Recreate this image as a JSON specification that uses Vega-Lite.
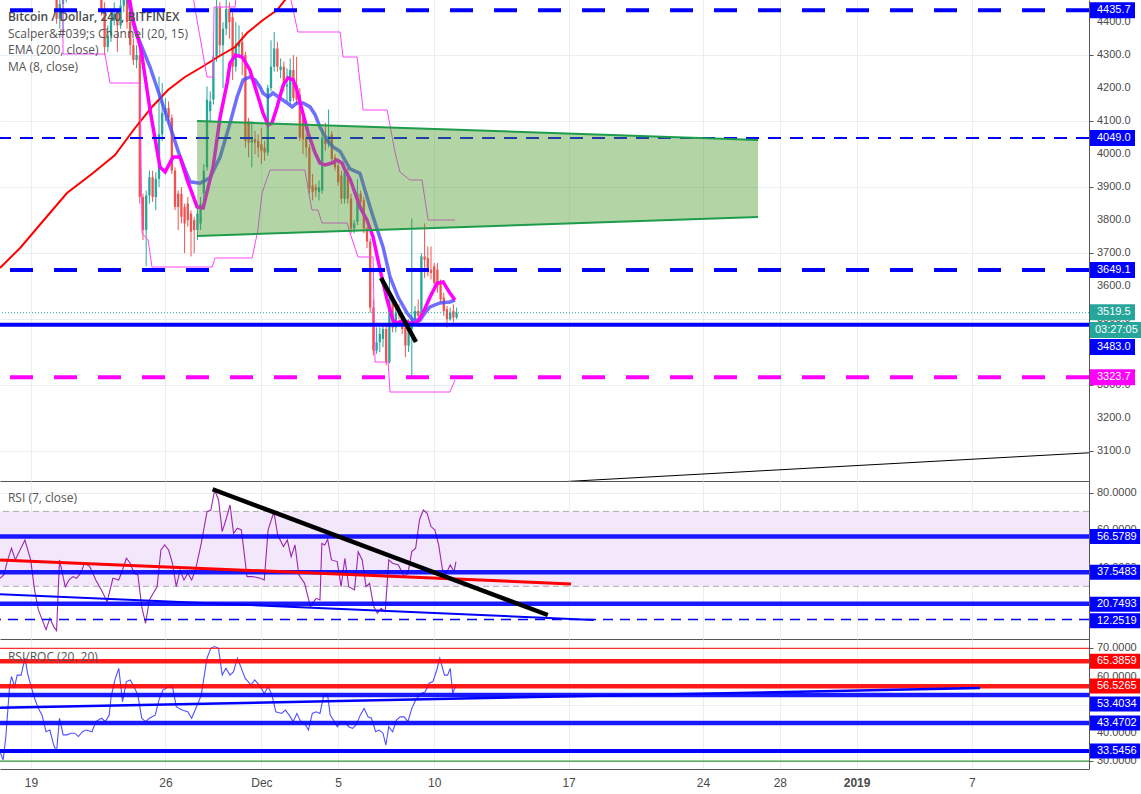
{
  "$schema": "https://vega.github.io/schema/vega-lite/v6.json",
  "padding": 0,
  "autosize": {"type": "pad"},
  "background": "white",
  "spacing": 0,
  "config": {
    "view": {"stroke": null},
    "axis": {"gridColor": "#e7eef4", "domainColor": "#555555", "tickColor": "#555555", "labelColor": "#4a4a4a", "labelFont": "Liberation Sans", "title": null, "zindex": 0}
  },
  "resolve": {"scale": {"x": "independent", "y": "independent", "color": "independent"}},
  "datasets": {
    "candles": [
      {"b":8,"o":4530,"h":4545,"l":4395,"c":4410},{"b":9,"o":4410,"h":4480,"l":4380,"c":4455},{"b":10,"o":4455,"h":4520,"l":4370,"c":4490},{"b":11,"o":4490,"h":4560,"l":4460,"c":4540},{"b":12,"o":4540,"h":4600,"l":4520,"c":4580},{"b":13,"o":4580,"h":4640,"l":4560,"c":4620},{"b":14,"o":4620,"h":4680,"l":4600,"c":4650},{"b":15,"o":4650,"h":4690,"l":4610,"c":4630},{"b":16,"o":4630,"h":4670,"l":4590,"c":4610},{"b":17,"o":4610,"h":4650,"l":4570,"c":4590},{"b":18,"o":4590,"h":4640,"l":4560,"c":4620},{"b":19,"o":4620,"h":4650,"l":4570,"c":4580},{"b":20,"o":4580,"h":4600,"l":4520,"c":4540},{"b":21,"o":4540,"h":4560,"l":4480,"c":4500},{"b":22,"o":4500,"h":4520,"l":4420,"c":4440},{"b":23,"o":4440,"h":4460,"l":4300,"c":4325},{"b":24,"o":4325,"h":4390,"l":4310,"c":4360},{"b":25,"o":4360,"h":4430,"l":4340,"c":4405},{"b":26,"o":4405,"h":4460,"l":4390,"c":4425},{"b":27,"o":4425,"h":4440,"l":4310,"c":4390},{"b":28,"o":4390,"h":4470,"l":4380,"c":4450},{"b":29,"o":4450,"h":4500,"l":4430,"c":4470},{"b":30,"o":4470,"h":4500,"l":4380,"c":4400},{"b":31,"o":4400,"h":4420,"l":4300,"c":4330},{"b":32,"o":4330,"h":4350,"l":4270,"c":4285},{"b":33,"o":4285,"h":4330,"l":4260,"c":4300},{"b":34,"o":4300,"h":4320,"l":3850,"c":3870},{"b":35,"o":3870,"h":3880,"l":3740,"c":3770},{"b":36,"o":3770,"h":3890,"l":3660,"c":3875},{"b":37,"o":3875,"h":3950,"l":3850,"c":3930},{"b":38,"o":3930,"h":3950,"l":3855,"c":3870},{"b":39,"o":3870,"h":3945,"l":3830,"c":3925},{"b":40,"o":3925,"h":4235,"l":3900,"c":4060},{"b":41,"o":4060,"h":4215,"l":4040,"c":4125},{"b":42,"o":4125,"h":4170,"l":4100,"c":4140},{"b":43,"o":4140,"h":4160,"l":4090,"c":4110},{"b":44,"o":4110,"h":4120,"l":3940,"c":3950},{"b":45,"o":3950,"h":3960,"l":3830,"c":3840},{"b":46,"o":3880,"h":3890,"l":3770,"c":3840},{"b":47,"o":3880,"h":3900,"l":3790,"c":3810},{"b":48,"o":3840,"h":3850,"l":3700,"c":3790},{"b":49,"o":3850,"h":3870,"l":3780,"c":3800},{"b":50,"o":3820,"h":3830,"l":3690,"c":3765},{"b":51,"o":3800,"h":3810,"l":3700,"c":3770},{"b":52,"o":3770,"h":3840,"l":3740,"c":3820},{"b":53,"o":3790,"h":3870,"l":3770,"c":3850},{"b":54,"o":3880,"h":3970,"l":3860,"c":3950},{"b":55,"o":3960,"h":4205,"l":3950,"c":4165},{"b":56,"o":4130,"h":4190,"l":4100,"c":4160},{"b":57,"o":4165,"h":4310,"l":4150,"c":4295},{"b":58,"o":4295,"h":4470,"l":4280,"c":4445},{"b":59,"o":4445,"h":4460,"l":4300,"c":4330},{"b":60,"o":4330,"h":4400,"l":4200,"c":4380},{"b":61,"o":4380,"h":4470,"l":4360,"c":4440},{"b":62,"o":4440,"h":4460,"l":4350,"c":4400},{"b":63,"o":4415,"h":4430,"l":4225,"c":4265},{"b":64,"o":4265,"h":4400,"l":4250,"c":4325},{"b":65,"o":4325,"h":4390,"l":4300,"c":4340},{"b":66,"o":4340,"h":4370,"l":4240,"c":4300},{"b":67,"o":4300,"h":4310,"l":4020,"c":4040},{"b":68,"o":4100,"h":4110,"l":3990,"c":4035},{"b":69,"o":4035,"h":4100,"l":3960,"c":4045},{"b":70,"o":4045,"h":4070,"l":4000,"c":4035},{"b":71,"o":4040,"h":4060,"l":3990,"c":4020},{"b":72,"o":4030,"h":4080,"l":3970,"c":4010},{"b":73,"o":4020,"h":4040,"l":3980,"c":4005},{"b":74,"o":4005,"h":4210,"l":3995,"c":4200},{"b":75,"o":4200,"h":4345,"l":4190,"c":4265},{"b":76,"o":4265,"h":4370,"l":4250,"c":4320},{"b":77,"o":4320,"h":4340,"l":4250,"c":4265},{"b":78,"o":4255,"h":4290,"l":4230,"c":4265},{"b":79,"o":4265,"h":4280,"l":4190,"c":4205},{"b":80,"o":4205,"h":4260,"l":4160,"c":4210},{"b":81,"o":4160,"h":4290,"l":4150,"c":4255},{"b":82,"o":4255,"h":4300,"l":4160,"c":4170},{"b":83,"o":4210,"h":4295,"l":4150,"c":4165},{"b":84,"o":4180,"h":4200,"l":4040,"c":4050},{"b":85,"o":4110,"h":4125,"l":4000,"c":4045},{"b":86,"o":4050,"h":4060,"l":3990,"c":4020},{"b":87,"o":4020,"h":4030,"l":3880,"c":3895},{"b":88,"o":3905,"h":3940,"l":3860,"c":3885},{"b":89,"o":3900,"h":3910,"l":3870,"c":3890},{"b":90,"o":3885,"h":3920,"l":3860,"c":3900},{"b":91,"o":3890,"h":4080,"l":3880,"c":4050},{"b":92,"o":4050,"h":4095,"l":4010,"c":4030},{"b":93,"o":4030,"h":4135,"l":4020,"c":4055},{"b":94,"o":4060,"h":4070,"l":3975,"c":3985},{"b":95,"o":3990,"h":4000,"l":3950,"c":3960},{"b":96,"o":3965,"h":3980,"l":3905,"c":3915},{"b":97,"o":3935,"h":3950,"l":3850,"c":3865},{"b":98,"o":3865,"h":3960,"l":3850,"c":3945},{"b":99,"o":3945,"h":3960,"l":3850,"c":3865},{"b":100,"o":3865,"h":3880,"l":3760,"c":3775},{"b":101,"o":3775,"h":3800,"l":3760,"c":3790},{"b":102,"o":3795,"h":3925,"l":3785,"c":3880},{"b":103,"o":3880,"h":3890,"l":3840,"c":3855},{"b":104,"o":3860,"h":3870,"l":3760,"c":3775},{"b":105,"o":3775,"h":3780,"l":3715,"c":3735},{"b":106,"o":3735,"h":3745,"l":3520,"c":3535},{"b":107,"o":3535,"h":3560,"l":3390,"c":3405},{"b":108,"o":3405,"h":3475,"l":3395,"c":3430},{"b":109,"o":3430,"h":3475,"l":3400,"c":3455},{"b":110,"o":3440,"h":3480,"l":3415,"c":3470},{"b":111,"o":3470,"h":3480,"l":3360,"c":3370},{"b":112,"o":3370,"h":3630,"l":3365,"c":3560},{"b":113,"o":3555,"h":3570,"l":3460,"c":3475},{"b":114,"o":3475,"h":3550,"l":3460,"c":3520},{"b":115,"o":3530,"h":3545,"l":3500,"c":3510},{"b":116,"o":3510,"h":3520,"l":3455,"c":3470},{"b":117,"o":3475,"h":3485,"l":3385,"c":3420},{"b":118,"o":3420,"h":3500,"l":3400,"c":3480},{"b":119,"o":3470,"h":3805,"l":3322,"c":3500},{"b":120,"o":3500,"h":3540,"l":3490,"c":3525},{"b":121,"o":3525,"h":3560,"l":3500,"c":3510},{"b":122,"o":3510,"h":3700,"l":3505,"c":3690},{"b":123,"o":3690,"h":3790,"l":3625,"c":3680},{"b":124,"o":3685,"h":3720,"l":3630,"c":3645},{"b":125,"o":3650,"h":3720,"l":3620,"c":3640},{"b":126,"o":3660,"h":3670,"l":3600,"c":3610},{"b":127,"o":3650,"h":3670,"l":3580,"c":3600},{"b":128,"o":3610,"h":3620,"l":3550,"c":3560},{"b":129,"o":3565,"h":3580,"l":3510,"c":3525},{"b":130,"o":3530,"h":3540,"l":3475,"c":3500},{"b":131,"o":3500,"h":3535,"l":3495,"c":3520},{"b":132,"o":3525,"h":3545,"l":3490,"c":3505},{"b":133,"o":3505,"h":3535,"l":3500,"c":3519.5}
    ],
    "ema": [{"b":-9.7,"p":3655},{"b":-3.4,"p":3715.6},{"b":5.9,"p":3821.6},{"b":11.25,"p":3882.2},{"b":19.4,"p":3942.8},{"b":26.25,"p":3997.4},{"b":32.5,"p":4079.2},{"b":37.8,"p":4142.8},{"b":42.8,"p":4194.3},{"b":48.1,"p":4233.7},{"b":53.4,"p":4264},{"b":58.4,"p":4294.3},{"b":63.75,"p":4324.6},{"b":67.5,"p":4367},{"b":72.5,"p":4406.4},{"b":76.9,"p":4436.7},{"b":79.4,"p":4467},{"b":84.1,"p":4521.5}],
    "ma8": [{"b":30.3,"p":4497},{"b":31.9,"p":4406},{"b":34.4,"p":4316},{"b":37.2,"p":4134},{"b":40.3,"p":3961},{"b":41.9,"p":3946},{"b":44.4,"p":3991},{"b":46.6,"p":3991},{"b":48.8,"p":3922},{"b":51.9,"p":3840},{"b":53.8,"p":3837},{"b":56.9,"p":3961},{"b":59.1,"p":4112},{"b":61.3,"p":4216},{"b":62.2,"p":4276},{"b":63.9,"p":4300},{"b":66,"p":4294},{"b":68.4,"p":4255},{"b":70.6,"p":4185},{"b":72.5,"p":4125},{"b":74.1,"p":4088},{"b":75.3,"p":4094},{"b":76.9,"p":4143},{"b":78.8,"p":4209},{"b":80.3,"p":4231},{"b":81.9,"p":4225},{"b":83.1,"p":4194},{"b":84.7,"p":4134},{"b":86.6,"p":4064},{"b":88.8,"p":4003},{"b":90.3,"p":3973},{"b":91.9,"p":3967},{"b":94.1,"p":3973},{"b":95.6,"p":3982},{"b":97.2,"p":3973},{"b":98.1,"p":3952},{"b":99.7,"p":3925},{"b":102.8,"p":3840},{"b":105,"p":3800},{"b":106.9,"p":3749},{"b":109.1,"p":3649},{"b":111.3,"p":3558},{"b":113.1,"p":3497},{"b":114.4,"p":3488},{"b":116.3,"p":3497},{"b":118.4,"p":3488},{"b":120.6,"p":3488},{"b":122.5,"p":3519},{"b":124.7,"p":3567},{"b":126.9,"p":3609},{"b":128.8,"p":3613},{"b":130.9,"p":3579},{"b":132.5,"p":3558}],
    "scal": [{"b":29.7,"p":4497},{"b":32.5,"p":4376},{"b":37.2,"p":4264},{"b":42.5,"p":4112},{"b":46.6,"p":3991},{"b":49.7,"p":3916},{"b":52.8,"p":3912},{"b":55.9,"p":3928},{"b":59.1,"p":3991},{"b":62.2,"p":4094},{"b":64.4,"p":4173},{"b":66.3,"p":4225},{"b":68.4,"p":4234},{"b":70,"p":4225},{"b":71.6,"p":4203},{"b":72.5,"p":4185},{"b":74.1,"p":4173},{"b":75.6,"p":4185},{"b":77.8,"p":4170},{"b":80,"p":4155},{"b":81.6,"p":4143},{"b":83.1,"p":4155},{"b":85,"p":4155},{"b":87.2,"p":4143},{"b":88.8,"p":4119},{"b":90.3,"p":4082},{"b":92.5,"p":4043},{"b":94.4,"p":4022},{"b":96.6,"p":4008},{"b":98.1,"p":3982},{"b":99.7,"p":3955},{"b":102.8,"p":3942},{"b":105,"p":3870},{"b":106.9,"p":3810},{"b":110,"p":3719},{"b":112.2,"p":3628},{"b":114.7,"p":3567},{"b":117.5,"p":3519},{"b":119.4,"p":3497},{"b":121.6,"p":3497},{"b":123.1,"p":3519},{"b":124.7,"p":3537},{"b":127.8,"p":3549},{"b":130.9,"p":3552},{"b":132.5,"p":3558}],
    "lower": [{"b":9.98,"p":4482},{"b":10,"p":4303.4},{"b":23.1,"p":4303.4},{"b":24.7,"p":4215.5},{"b":34.1,"p":4215.5},{"b":34.7,"p":3761},{"b":36.6,"p":3739.8},{"b":37.8,"p":3658},{"b":56.6,"p":3658},{"b":57.5,"p":3685.3},{"b":69.1,"p":3685.3},{"b":70.9,"p":3770},{"b":72.2,"p":3882.2},{"b":74.7,"p":3951.9},{"b":85.6,"p":3951.9},{"b":87.2,"p":3861},{"b":87.8,"p":3830.7},{"b":89.7,"p":3830.7},{"b":90.9,"p":3791.3},{"b":98.8,"p":3791.3},{"b":99.7,"p":3761},{"b":102.2,"p":3688.3},{"b":106.9,"p":3688.3},{"b":107.5,"p":3370.1},{"b":111.6,"p":3370.1},{"b":112.2,"p":3279.2},{"b":130.9,"p":3279.2},{"b":132.5,"p":3315.6}],
    "upper": [{"b":50.6,"p":4482},{"b":51.6,"p":4421.6},{"b":53.8,"p":4300.4},{"b":55,"p":4233.7},{"b":56.9,"p":4233.7},{"b":57.2,"p":4445.8},{"b":63.8,"p":4445.8},{"b":64.1,"p":4482},{"b":80.9,"p":4482},{"b":83.4,"p":4370},{"b":96.6,"p":4370},{"b":97.5,"p":4294.3},{"b":101.9,"p":4294.3},{"b":103.8,"p":4133.7},{"b":111.3,"p":4133.7},{"b":113.8,"p":4003.4},{"b":115.3,"p":3945.8},{"b":118.4,"p":3921.6},{"b":122.2,"p":3921.6},{"b":124.1,"p":3800.4},{"b":132.5,"p":3800.4}],
    "rsi": [{"b":-9.69,"v":34.3},{"b":-8.5,"v":36.1},{"b":-7.28,"v":44.1},{"b":-6.09,"v":50.3},{"b":-4.9,"v":44.1},{"b":-3.69,"v":48.5},{"b":-1.9,"v":54.7},{"b":-0.1,"v":44.1},{"b":1.1,"v":28.1},{"b":2.3,"v":17.4},{"b":4.7,"v":6.9},{"b":5.9,"v":13},{"b":7.1,"v":8.5},{"b":8,"v":6.4},{"b":8.9,"v":44.1},{"b":10.7,"v":29.8},{"b":11.9,"v":33.4},{"b":13.1,"v":35.2},{"b":14.25,"v":34.3},{"b":15.5,"v":37},{"b":16.7,"v":42.3},{"b":18.4,"v":40.5},{"b":20.25,"v":33.4},{"b":22,"v":28.1},{"b":23.8,"v":21.8},{"b":25.6,"v":34.3},{"b":27.4,"v":33.4},{"b":28.6,"v":38.7},{"b":29.8,"v":45},{"b":31,"v":42.3},{"b":32.2,"v":37},{"b":33.4,"v":36.1},{"b":34.6,"v":19.2},{"b":35.8,"v":10.3},{"b":37,"v":22.7},{"b":38.2,"v":26.3},{"b":39.4,"v":29.8},{"b":40.6,"v":49.4},{"b":41.8,"v":52.1},{"b":43,"v":49.4},{"b":44.2,"v":42.3},{"b":45.4,"v":29.8},{"b":46.6,"v":38.7},{"b":47.8,"v":33.4},{"b":49,"v":37},{"b":50.2,"v":33.4},{"b":51.4,"v":38.7},{"b":53.2,"v":52.9},{"b":55,"v":69.8},{"b":56.2,"v":70.7},{"b":57.4,"v":81.4},{"b":58.6,"v":76.1},{"b":59.75,"v":59.2},{"b":60.9,"v":65.4},{"b":62.2,"v":73.4},{"b":63.3,"v":58.3},{"b":64.5,"v":61},{"b":65.75,"v":60.1},{"b":67.5,"v":35.2},{"b":69.3,"v":35.2},{"b":71.7,"v":34.3},{"b":72.9,"v":33.4},{"b":74.1,"v":60.1},{"b":75.9,"v":69.8},{"b":77.1,"v":57.4},{"b":78.9,"v":51.2},{"b":80.1,"v":54.7},{"b":81.3,"v":45.8},{"b":82.5,"v":52.1},{"b":83.7,"v":36.1},{"b":85.5,"v":31.6},{"b":87.3,"v":19.2},{"b":89.1,"v":23.6},{"b":90.3,"v":22.7},{"b":90.9,"v":52.9},{"b":91.8,"v":52.1},{"b":92.7,"v":55.1},{"b":93.9,"v":44.1},{"b":95.7,"v":43.2},{"b":96.9,"v":29.8},{"b":98.1,"v":45},{"b":99.3,"v":29.8},{"b":101.1,"v":28.1},{"b":102.25,"v":48.5},{"b":103.5,"v":44.1},{"b":104.7,"v":29.8},{"b":105.8,"v":31.6},{"b":107.1,"v":19.2},{"b":108.25,"v":15.7},{"b":109.4,"v":18.3},{"b":110.7,"v":16.5},{"b":111.8,"v":44.1},{"b":113,"v":42.3},{"b":114.8,"v":41.4},{"b":116.6,"v":35.2},{"b":117.8,"v":37},{"b":119,"v":48.5},{"b":120.2,"v":50.3},{"b":121.4,"v":65.4},{"b":122.6,"v":70.7},{"b":123.8,"v":68.9},{"b":125,"v":61.9},{"b":126.2,"v":60.1},{"b":127.4,"v":52.1},{"b":128.6,"v":38.7},{"b":129.8,"v":37},{"b":131,"v":41.4},{"b":132.2,"v":37.8},{"b":132.8,"v":43.2}],
    "roc": [{"b":-9.69,"v":33.3},{"b":-8.72,"v":30.4},{"b":-7.9,"v":38.1},{"b":-6.69,"v":56.4},{"b":-6.09,"v":60},{"b":-5.13,"v":56.4},{"b":-4.31,"v":60.5},{"b":-3.09,"v":60.5},{"b":-1.9,"v":66.5},{"b":-1.06,"v":61.1},{"b":-0.1,"v":57},{"b":1.1,"v":52.3},{"b":2.3,"v":48.7},{"b":3.47,"v":46.3},{"b":4.7,"v":40.4},{"b":5.9,"v":41},{"b":7.1,"v":35.7},{"b":8,"v":33.3},{"b":8.9,"v":45.2},{"b":10.06,"v":39.3},{"b":11.25,"v":39.3},{"b":12.47,"v":39.9},{"b":13.66,"v":39.9},{"b":14.84,"v":38.7},{"b":16.06,"v":40.4},{"b":17.25,"v":41},{"b":19.06,"v":40.4},{"b":20.25,"v":44},{"b":22.03,"v":45.2},{"b":23.25,"v":44},{"b":24.44,"v":46.3},{"b":25.03,"v":52.8},{"b":26.22,"v":58.8},{"b":27.44,"v":62.9},{"b":28.6,"v":51.1},{"b":29.8,"v":58.2},{"b":31,"v":58.8},{"b":32.2,"v":56.4},{"b":33.4,"v":53.4},{"b":34.6,"v":45.2},{"b":35.8,"v":44},{"b":37,"v":45.2},{"b":38.8,"v":46.3},{"b":40,"v":51.7},{"b":41.2,"v":55.2},{"b":43,"v":56.4},{"b":44.2,"v":56.4},{"b":45.4,"v":49.3},{"b":47.2,"v":48.1},{"b":49,"v":47.5},{"b":50.2,"v":45.2},{"b":52,"v":50},{"b":53.2,"v":53.4},{"b":55,"v":66.5},{"b":56.2,"v":70},{"b":57.4,"v":70.6},{"b":58.6,"v":70},{"b":59.75,"v":60.5},{"b":60.9,"v":62.9},{"b":62.2,"v":60.5},{"b":63.3,"v":61.7},{"b":64.5,"v":66.5},{"b":65.75,"v":62.9},{"b":66.9,"v":59.4},{"b":68.75,"v":57},{"b":69.9,"v":58.8},{"b":71.7,"v":56.4},{"b":72.9,"v":54},{"b":74.1,"v":56.4},{"b":75.3,"v":53.4},{"b":76.5,"v":47.5},{"b":78.3,"v":46.9},{"b":79.5,"v":48.1},{"b":80.7,"v":46.3},{"b":81.9,"v":44},{"b":83.1,"v":46.9},{"b":84.3,"v":44},{"b":85.5,"v":43.4},{"b":86.7,"v":41},{"b":87.9,"v":46.9},{"b":89.1,"v":47.5},{"b":90.3,"v":46.9},{"b":91.5,"v":53.4},{"b":92.7,"v":53.4},{"b":93.5,"v":46.3},{"b":94.5,"v":44.6},{"b":95.7,"v":42.2},{"b":96.9,"v":44},{"b":98.1,"v":44},{"b":99.3,"v":42.2},{"b":100.5,"v":41.6},{"b":101.6,"v":42.8},{"b":102.9,"v":46.3},{"b":104.1,"v":48.7},{"b":105.3,"v":45.7},{"b":106.4,"v":45.2},{"b":107.7,"v":40.4},{"b":108.8,"v":41},{"b":110,"v":39.9},{"b":110.9,"v":35.7},{"b":111.8,"v":42.2},{"b":113,"v":40.4},{"b":114.25,"v":44.6},{"b":115.4,"v":45.7},{"b":116.6,"v":45.7},{"b":117.8,"v":44},{"b":119,"v":48.7},{"b":120.2,"v":51.7},{"b":122,"v":54},{"b":123.2,"v":54.6},{"b":124.4,"v":57.6},{"b":125.6,"v":58.2},{"b":126.8,"v":62.3},{"b":127.75,"v":66.5},{"b":129.2,"v":60.5},{"b":130.2,"v":60.5},{"b":131,"v":62.9},{"b":131.8,"v":54},{"b":132.8,"v":57}],
    "ticks1": [{"v":3100},{"v":3200},{"v":3300},{"v":3400},{"v":3500},{"v":3600},{"v":3700},{"v":3800},{"v":3900},{"v":4000},{"v":4100},{"v":4200},{"v":4300},{"v":4400}],
    "ticks2": [{"v":20},{"v":40},{"v":60},{"v":80}],
    "ticks3": [{"v":30},{"v":40},{"v":50},{"v":60},{"v":70}],
    "tags1": [{"lab":"4435.7","at":4435.7,"k":"level"},{"lab":"4049.0","at":4049,"k":"level"},{"lab":"3649.1","at":3649.1,"k":"level"},{"lab":"3519.5","at":3521,"k":"last"},{"lab":"3483.0","at":3415.6,"k":"level"},{"lab":"3323.7","at":3323.7,"k":"low"}],
    "tags2": [{"lab":"56.5789","at":56.5789},{"lab":"37.5483","at":37.5483},{"lab":"20.7493","at":20.5},{"lab":"12.2519","at":11.6}],
    "tags3": [{"lab":"65.3859","at":65.3859,"k":"high"},{"lab":"56.5265","at":56.6,"k":"high"},{"lab":"53.4034","at":50.25,"k":"low"},{"lab":"43.4702","at":43.4702,"k":"low"},{"lab":"33.5456","at":33.5456,"k":"low"}]
  },
  "vconcat": [
    {
      "width": 1089,
      "height": 481,
      "layer": [
        {
          "data": {"name": "candles"},
          "mark": {"type": "rule", "strokeWidth": 1, "clip": true},
          "encoding": {
            "x": {"field": "b", "type": "quantitative", "scale": {"domain": [-9.6875, 330.625], "nice": false, "zero": false, "padding": 0},
                  "axis": {"orient": "bottom", "values": [0,42,72,96,126,168,210,234,258,294], "labels": false, "ticks": false, "grid": true, "domain": true, "zindex": 0}},
            "y": {"field": "l", "type": "quantitative", "scale": {"domain": [3009.6, 4467], "nice": false, "zero": false, "padding": 0},
                  "axis": {"orient": "right", "values": [3100,3200,3300,3400,3500,3600,3700,3800,3900,4000,4100,4200,4300,4400], "labels": false, "grid": true, "ticks": true, "tickSize": 4, "domain": true, "zindex": 0}},
            "y2": {"field": "h"},
            "color": {"condition": {"test": "datum.c >= datum.o", "value": "#26a69a"}, "value": "#ef5350"}
          }
        },
        {
          "data": {"name": "candles"},
          "mark": {"type": "bar", "size": 2.3, "clip": true},
          "encoding": {
            "x": {"field": "b", "type": "quantitative"},
            "y": {"field": "o", "type": "quantitative"},
            "y2": {"field": "c"},
            "color": {"condition": {"test": "datum.c >= datum.o", "value": "#26a69a"}, "value": "#ef5350"}
          }
        },
        {
          "data": {"name": "ema"},
          "mark": {"type": "line", "color": "#ff0000", "strokeWidth": 2, "clip": true},
          "encoding": {"x": {"field": "b", "type": "quantitative"}, "y": {"field": "p", "type": "quantitative"}}
        },
        {
          "data": {"name": "lower"},
          "mark": {"type": "line", "color": "#ff44ff", "strokeWidth": 1, "clip": true},
          "encoding": {"x": {"field": "b", "type": "quantitative"}, "y": {"field": "p", "type": "quantitative"}}
        },
        {
          "data": {"name": "upper"},
          "mark": {"type": "line", "color": "#ff44ff", "strokeWidth": 1, "clip": true},
          "encoding": {"x": {"field": "b", "type": "quantitative"}, "y": {"field": "p", "type": "quantitative"}}
        },
        {
          "data": {"name": "scal"},
          "mark": {"type": "line", "color": "#4b4bff", "opacity": 0.8, "strokeWidth": 3.5, "clip": true},
          "encoding": {"x": {"field": "b", "type": "quantitative"}, "y": {"field": "p", "type": "quantitative"}}
        },
        {
          "data": {"name": "ma8"},
          "mark": {"type": "line", "color": "#ff00ff", "strokeWidth": 3.5, "clip": true},
          "encoding": {"x": {"field": "b", "type": "quantitative"}, "y": {"field": "p", "type": "quantitative"}}
        },
        {
          "data": {"values": [{"t": "Bitcoin / Dollar, 240, BITFINEX"}]},
          "mark": {"type": "text", "align": "left", "baseline": "middle", "font": "Open Sans", "fontSize": 12, "fontWeight": 600, "color": "#4a4a4a"},
          "encoding": {"x": {"datum": -7.2}, "y": {"datum": 4415.5}, "text": {"field": "t"}}
        },
        {
          "data": {"values": [{"t": "Scalper&#039;s Channel (20, 15)"}]},
          "mark": {"type": "text", "align": "left", "baseline": "middle", "font": "Open Sans", "fontSize": 12, "color": "#555555"},
          "encoding": {"x": {"datum": -7.2}, "y": {"datum": 4364}, "text": {"field": "t"}}
        },
        {
          "data": {"values": [{"t": "EMA (200, close)"}]},
          "mark": {"type": "text", "align": "left", "baseline": "middle", "font": "Open Sans", "fontSize": 12, "color": "#555555"},
          "encoding": {"x": {"datum": -7.2}, "y": {"datum": 4314}, "text": {"field": "t"}}
        },
        {
          "data": {"values": [{"t": "MA (8, close)"}]},
          "mark": {"type": "text", "align": "left", "baseline": "middle", "font": "Open Sans", "fontSize": 12, "color": "#555555"},
          "encoding": {"x": {"datum": -7.2}, "y": {"datum": 4264}, "text": {"field": "t"}}
        },
        {
          "data": {"values": [{"v": 4435.7}, {"v": 3649.1}]},
          "mark": {"type": "rule", "color": "#0000ff", "strokeWidth": 4, "strokeDash": [23, 21], "clip": true},
          "encoding": {"y": {"field": "v", "type": "quantitative"}}
        },
        {
          "data": {"values": [{"v": 4049}]},
          "mark": {"type": "rule", "color": "#0000ff", "strokeWidth": 2, "strokeDash": [13, 9], "clip": true},
          "encoding": {"y": {"field": "v", "type": "quantitative"}}
        },
        {
          "data": {"values": [{"v": 3483}]},
          "mark": {"type": "rule", "color": "#0000ff", "strokeWidth": 4, "clip": true},
          "encoding": {"y": {"field": "v", "type": "quantitative"}}
        },
        {
          "data": {"values": [{"v": 3323.7}]},
          "mark": {"type": "rule", "color": "#ff00ff", "strokeWidth": 4, "strokeDash": [23, 21], "clip": true},
          "encoding": {"y": {"field": "v", "type": "quantitative"}}
        },
        {
          "data": {"values": [{"v": 3519.5}]},
          "mark": {"type": "rule", "color": "#26a69a", "strokeWidth": 1, "strokeDash": [1, 2], "clip": true},
          "encoding": {"y": {"field": "v", "type": "quantitative"}}
        },
        {
          "data": {"values": [{"b": 51.9, "t": 4100.4, "u": 3751.9}, {"b": 227.2, "t": 4042.8, "u": 3809.5}]},
          "mark": {"type": "area", "color": "#4a9a2a", "opacity": 0.42, "clip": true},
          "encoding": {"x": {"field": "b", "type": "quantitative"}, "y": {"field": "t", "type": "quantitative"}, "y2": {"field": "u"}}
        },
        {
          "data": {"values": [{"b": 51.9, "p": 4100.4, "e": "top"}, {"b": 227.2, "p": 4042.8, "e": "top"}, {"b": 51.9, "p": 3751.9, "e": "bottom"}, {"b": 227.2, "p": 3809.5, "e": "bottom"}]},
          "mark": {"type": "line", "color": "#1e9c4c", "strokeWidth": 2, "clip": true},
          "encoding": {"x": {"field": "b", "type": "quantitative"}, "y": {"field": "p", "type": "quantitative"}, "detail": {"field": "e"}}
        },
        {
          "data": {"values": [{"b": 109.4, "p": 3624.7}, {"b": 120.3, "p": 3430.7}]},
          "mark": {"type": "line", "color": "#000000", "strokeWidth": 4.5, "clip": true},
          "encoding": {"x": {"field": "b", "type": "quantitative"}, "y": {"field": "p", "type": "quantitative"}}
        },
        {
          "data": {"values": [{"b": 165.3, "p": 3007}, {"b": 330.6, "p": 3095}]},
          "mark": {"type": "line", "color": "#000000", "strokeWidth": 1, "clip": true},
          "encoding": {"x": {"field": "b", "type": "quantitative"}, "y": {"field": "p", "type": "quantitative"}}
        },
        {
          "data": {"name": "ticks1"},
          "mark": {"type": "text", "align": "left", "baseline": "middle", "fontSize": 11, "font": "Liberation Sans", "color": "#4a4a4a", "clip": false},
          "encoding": {"x": {"datum": 333.1}, "y": {"field": "v", "type": "quantitative"}, "text": {"field": "v", "type": "quantitative", "format": ".1f"}}
        },
        {
          "data": {"name": "tags1"},
          "mark": {"type": "bar", "size": 16, "clip": false, "orient": "horizontal"},
          "encoding": {
            "x": {"datum": 330.94}, "x2": {"datum": 345.0},
            "y": {"field": "at", "type": "quantitative"},
            "color": {"field": "k", "type": "nominal", "scale": {"domain": ["level", "last", "low"], "range": ["#0000ff", "#26a69a", "#ff00ff"]}, "legend": null}
          }
        },
        {
          "data": {"name": "tags1"},
          "mark": {"type": "text", "align": "left", "baseline": "middle", "fontSize": 11, "font": "Liberation Sans", "color": "#ffffff", "clip": false},
          "encoding": {"x": {"datum": 333.1}, "y": {"field": "at", "type": "quantitative"}, "text": {"field": "lab"}}
        },
        {
          "data": {"values": [{"lab": "03:27:05", "at": 3467}]},
          "mark": {"type": "bar", "size": 16, "clip": false, "orient": "horizontal", "color": "#26a69a"},
          "encoding": {"x": {"datum": 330.94}, "x2": {"datum": 346.9}, "y": {"field": "at", "type": "quantitative"}}
        },
        {
          "data": {"values": [{"lab": "03:27:05", "at": 3467}]},
          "mark": {"type": "text", "align": "left", "baseline": "middle", "fontSize": 11, "font": "Liberation Sans", "color": "#ffffff", "clip": false},
          "encoding": {"x": {"datum": 332.5}, "y": {"field": "at", "type": "quantitative"}, "text": {"field": "lab"}}
        }
      ]
    },
    {
      "width": 1089,
      "height": 158,
      "layer": [
        {
          "data": {"values": [{"hi": 70, "lo": 30}]},
          "mark": {"type": "rect", "color": "#f3e7fc", "clip": true},
          "encoding": {"x": {"datum": -9.6875}, "x2": {"datum": 330.625}, "y": {"field": "hi", "type": "quantitative"}, "y2": {"field": "lo"}}
        },
        {
          "data": {"values": [{"v": 70}, {"v": 30}]},
          "mark": {"type": "rule", "color": "#aaaaaa", "strokeWidth": 1, "strokeDash": [6, 4], "clip": true},
          "encoding": {"y": {"field": "v", "type": "quantitative"}}
        },
        {
          "data": {"name": "rsi"},
          "mark": {"type": "line", "color": "#9c27b0", "strokeWidth": 1.1, "clip": true},
          "encoding": {
            "x": {"field": "b", "type": "quantitative", "scale": {"domain": [-9.6875, 330.625], "nice": false, "zero": false, "padding": 0},
                  "axis": {"orient": "bottom", "values": [0,42,72,96,126,168,210,234,258,294], "labels": false, "ticks": false, "grid": true, "domain": true, "zindex": 0}},
            "y": {"field": "v", "type": "quantitative", "scale": {"domain": [1.9, 86.2], "nice": false, "zero": false, "padding": 0},
                  "axis": {"orient": "right", "values": [20, 40, 60, 80], "labels": false, "grid": true, "ticks": true, "tickSize": 4, "domain": true, "zindex": 0}}
          }
        },
        {
          "data": {"values": [{"v": 56.5789}, {"v": 37.5483}, {"v": 20.7493}]},
          "mark": {"type": "rule", "color": "#0000ff", "strokeWidth": 4.5, "opacity": 0.9, "clip": true},
          "encoding": {"y": {"field": "v", "type": "quantitative"}}
        },
        {
          "data": {"values": [{"v": 12.2519}]},
          "mark": {"type": "rule", "color": "#0000ff", "strokeWidth": 1.5, "strokeDash": [10, 7], "clip": true},
          "encoding": {"y": {"field": "v", "type": "quantitative"}}
        },
        {
          "data": {"values": [{"b": -9.6875, "v": 25.8}, {"b": 175.9, "v": 12.1}]},
          "mark": {"type": "line", "color": "#0000ff", "strokeWidth": 2, "clip": true},
          "encoding": {"x": {"field": "b", "type": "quantitative"}, "y": {"field": "v", "type": "quantitative"}}
        },
        {
          "data": {"values": [{"b": -9.6875, "v": 44.1}, {"b": 168.75, "v": 31.3}]},
          "mark": {"type": "line", "color": "#ff0000", "strokeWidth": 3, "clip": true},
          "encoding": {"x": {"field": "b", "type": "quantitative"}, "y": {"field": "v", "type": "quantitative"}}
        },
        {
          "data": {"values": [{"b": 56.75, "v": 81.8}, {"b": 161.5, "v": 14.7}]},
          "mark": {"type": "line", "color": "#000000", "strokeWidth": 4.5, "clip": true},
          "encoding": {"x": {"field": "b", "type": "quantitative"}, "y": {"field": "v", "type": "quantitative"}}
        },
        {
          "data": {"values": [{"t": "RSI (7, close)"}]},
          "mark": {"type": "text", "align": "left", "baseline": "middle", "font": "Open Sans", "fontSize": 12, "color": "#555555"},
          "encoding": {"x": {"datum": -7.2}, "y": {"datum": 77.1}, "text": {"field": "t"}}
        },
        {
          "data": {"name": "ticks2"},
          "mark": {"type": "text", "align": "left", "baseline": "middle", "fontSize": 11, "font": "Liberation Sans", "color": "#4a4a4a", "clip": false},
          "encoding": {"x": {"datum": 333.1}, "y": {"field": "v", "type": "quantitative"}, "text": {"field": "v", "type": "quantitative", "format": ".4f"}}
        },
        {
          "data": {"name": "tags2"},
          "mark": {"type": "bar", "size": 15, "clip": false, "orient": "horizontal", "color": "#0000ff"},
          "encoding": {"x": {"datum": 330.94}, "x2": {"datum": 346.6}, "y": {"field": "at", "type": "quantitative"}}
        },
        {
          "data": {"name": "tags2"},
          "mark": {"type": "text", "align": "left", "baseline": "middle", "fontSize": 11, "font": "Liberation Sans", "color": "#ffffff", "clip": false},
          "encoding": {"x": {"datum": 333.1}, "y": {"field": "at", "type": "quantitative"}, "text": {"field": "lab"}}
        }
      ]
    },
    {
      "width": 1089,
      "height": 130,
      "layer": [
        {
          "data": {"name": "roc"},
          "mark": {"type": "line", "color": "#5050ff", "strokeWidth": 1.1, "clip": true},
          "encoding": {
            "x": {"field": "b", "type": "quantitative", "scale": {"domain": [-9.6875, 330.625], "nice": false, "zero": false, "padding": 0},
                  "axis": {"orient": "bottom", "values": [0,42,72,96,126,168,210,234,258,294], "labels": true, "ticks": false, "grid": true, "domain": true, "zindex": 0, "labelFontSize": 12, "labelPadding": 8, "labelOverlap": false,
                           "labelExpr": "datum.value == 0 ? '19' : datum.value == 42 ? '26' : datum.value == 72 ? 'Dec' : datum.value == 96 ? '5' : datum.value == 126 ? '10' : datum.value == 168 ? '17' : datum.value == 210 ? '24' : datum.value == 234 ? '28' : datum.value == 258 ? '2019' : '7'",
                           "labelFontWeight": {"condition": {"test": "datum.value == 258", "value": "bold"}, "value": "normal"}}},
            "y": {"field": "v", "type": "quantitative", "scale": {"domain": [27.2, 73.3], "nice": false, "zero": false, "padding": 0},
                  "axis": {"orient": "right", "values": [30, 40, 50, 60, 70], "labels": false, "grid": true, "ticks": true, "tickSize": 4, "domain": true, "zindex": 0}}
          }
        },
        {
          "data": {"values": [{"v": 70}]},
          "mark": {"type": "rule", "color": "#ff0000", "strokeWidth": 1, "clip": true},
          "encoding": {"y": {"field": "v", "type": "quantitative"}}
        },
        {
          "data": {"values": [{"v": 65.3859}, {"v": 56.5265}]},
          "mark": {"type": "rule", "color": "#ff0000", "strokeWidth": 4.5, "opacity": 0.9, "clip": true},
          "encoding": {"y": {"field": "v", "type": "quantitative"}}
        },
        {
          "data": {"values": [{"v": 53.4034}, {"v": 43.4702}]},
          "mark": {"type": "rule", "color": "#0000ff", "strokeWidth": 4.5, "opacity": 0.9, "clip": true},
          "encoding": {"y": {"field": "v", "type": "quantitative"}}
        },
        {
          "data": {"values": [{"v": 33.5456}]},
          "mark": {"type": "rule", "color": "#0000ff", "strokeWidth": 4, "clip": true},
          "encoding": {"y": {"field": "v", "type": "quantitative"}}
        },
        {
          "data": {"values": [{"v": 30}]},
          "mark": {"type": "rule", "color": "#008000", "strokeWidth": 1, "clip": true},
          "encoding": {"y": {"field": "v", "type": "quantitative"}}
        },
        {
          "data": {"values": [{"b": -9.6875, "v": 48.9}, {"b": 296.6, "v": 55.9}]},
          "mark": {"type": "line", "color": "#0000ff", "strokeWidth": 2.5, "clip": true},
          "encoding": {"x": {"field": "b", "type": "quantitative"}, "y": {"field": "v", "type": "quantitative"}}
        },
        {
          "data": {"values": [{"t": "RSI/ROC (20, 20)"}]},
          "mark": {"type": "text", "align": "left", "baseline": "middle", "font": "Open Sans", "fontSize": 12, "color": "#555555"},
          "encoding": {"x": {"datum": -7.2}, "y": {"datum": 66.9}, "text": {"field": "t"}}
        },
        {
          "data": {"name": "ticks3"},
          "mark": {"type": "text", "align": "left", "baseline": "middle", "fontSize": 11, "font": "Liberation Sans", "color": "#4a4a4a", "clip": false},
          "encoding": {"x": {"datum": 333.1}, "y": {"field": "v", "type": "quantitative"}, "text": {"field": "v", "type": "quantitative", "format": ".4f"}}
        },
        {
          "data": {"name": "tags3"},
          "mark": {"type": "bar", "size": 15, "clip": false, "orient": "horizontal"},
          "encoding": {
            "x": {"datum": 330.94}, "x2": {"datum": 346.6},
            "y": {"field": "at", "type": "quantitative"},
            "color": {"field": "k", "type": "nominal", "scale": {"domain": ["high", "low"], "range": ["#ff0000", "#0000ff"]}, "legend": null}
          }
        },
        {
          "data": {"name": "tags3"},
          "mark": {"type": "text", "align": "left", "baseline": "middle", "fontSize": 11, "font": "Liberation Sans", "color": "#ffffff", "clip": false},
          "encoding": {"x": {"datum": 333.1}, "y": {"field": "at", "type": "quantitative"}, "text": {"field": "lab"}}
        }
      ]
    }
  ]
}
